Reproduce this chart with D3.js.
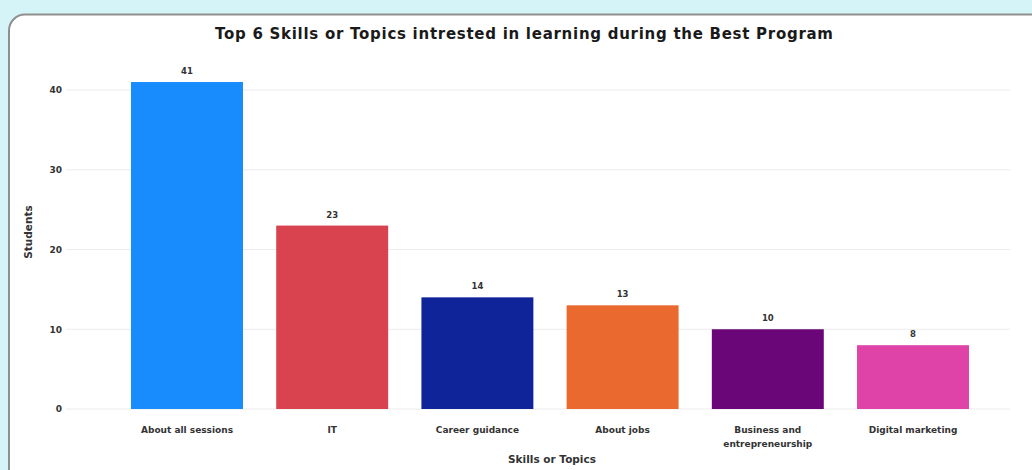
<!DOCTYPE html>
<html>
<head>
<meta charset="utf-8">
<script src="https://cdn.jsdelivr.net/npm/d3@7"></script>
<style>
html,body{margin:0;padding:0;background:#d4f4f7;}
svg{display:block;}
</style>
</head>
<body>
<svg id="chart" width="1032" height="470"></svg>
<script>
const categories = ["About all sessions", "IT", "Career guidance", "About jobs", "Business and entrepreneurship", "Digital marketing"];
const labelLines = [["About all sessions"], ["IT"], ["Career guidance"], ["About jobs"], ["Business and", "entrepreneurship"], ["Digital marketing"]];
const values = [41, 23, 14, 13, 10, 8];
const colors = ["#188bfd", "#d94350", "#10249a", "#e9692f", "#6a0678", "#df43a8"];
const yTicks = [0, 10, 20, 30, 40];
const title = "Top 6 Skills or Topics intrested in learning during the Best Program";

const FONT = "DejaVu Sans, Verdana, sans-serif";
const svg = d3.select("#chart");
svg.append("rect").attr("width", 1032).attr("height", 470).attr("fill", "#d4f4f7");
// card
svg.append("rect").attr("x", 9).attr("y", 14.5).attr("width", 1060).attr("height", 500)
  .attr("rx", 16).attr("fill", "#fff").attr("stroke", "#8f8f8f").attr("stroke-width", 2);

const y = d3.scaleLinear().domain([0, 40]).range([409, 90]);
const x = d3.scaleBand().domain(categories).range([112, 988]).paddingInner(0.229).paddingOuter(0.131);

// grid
svg.append("g").selectAll("line").data(yTicks).join("line")
  .attr("x1", 66).attr("x2", 1010)
  .attr("y1", d => y(d)).attr("y2", d => y(d))
  .attr("stroke", "#ececec").attr("stroke-width", 1);

// y axis
const yAxis = svg.append("g").attr("transform", "translate(66,0)")
  .call(d3.axisLeft(y).tickValues(yTicks).tickSize(0).tickPadding(4));
yAxis.select(".domain").remove();
yAxis.selectAll("text").attr("font-family", FONT).attr("font-size", 9).attr("font-weight", "bold").attr("fill", "#333");

// bars
svg.append("g").selectAll("rect").data(values).join("rect")
  .attr("x", (d, i) => x(categories[i]))
  .attr("width", x.bandwidth())
  .attr("y", d => y(d))
  .attr("height", d => y(0) - y(d))
  .attr("fill", (d, i) => colors[i]);

// value labels
svg.append("g").selectAll("text").data(values).join("text")
  .attr("x", (d, i) => x(categories[i]) + x.bandwidth() / 2)
  .attr("y", d => y(d) - 8)
  .attr("text-anchor", "middle")
  .attr("font-family", FONT)
  .attr("font-size", 8.5).attr("font-weight", "bold").attr("fill", "#333")
  .text(d => d);

// x labels
const xl = svg.append("g").selectAll("text").data(labelLines).join("text")
  .attr("x", (d, i) => x(categories[i]) + x.bandwidth() / 2)
  .attr("y", 433)
  .attr("text-anchor", "middle")
  .attr("font-family", FONT)
  .attr("font-size", 9).attr("font-weight", "bold").attr("fill", "#333");
xl.selectAll("tspan").data(d => d).join("tspan")
  .attr("x", function() { return d3.select(this.parentNode).attr("x"); })
  .attr("dy", (d, i) => i === 0 ? 0 : 14)
  .text(d => d);

// axis titles
svg.append("text").attr("x", 552).attr("y", 463).attr("text-anchor", "middle")
  .attr("font-family", FONT).attr("font-size", 10.5).attr("font-weight", "bold").attr("fill", "#333")
  .text("Skills or Topics");
svg.append("text").attr("transform", "translate(32,232) rotate(-90)").attr("text-anchor", "middle")
  .attr("font-family", FONT).attr("font-size", 10.5).attr("font-weight", "bold").attr("fill", "#333")
  .text("Students");

// title
svg.append("text").attr("x", 524).attr("y", 39).attr("text-anchor", "middle")
  .attr("font-family", FONT).attr("font-size", 15).attr("font-weight", "bold").attr("fill", "#1a1a1a")
  .attr("textLength", 618).attr("lengthAdjust", "spacing")
  .text(title);
</script>
</body>
</html>
